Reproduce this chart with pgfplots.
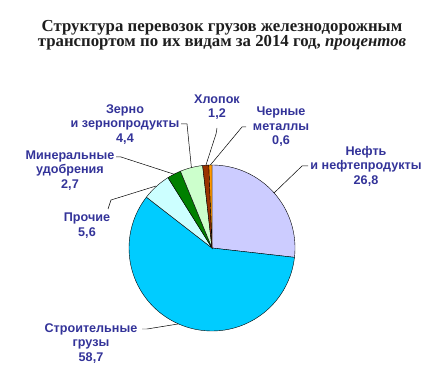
\documentclass[border=0pt]{standalone}
\usepackage{pgfplots}
\pgfplotsset{compat=1.18}
\usepackage{fontspec}
\setmainfont{Liberation Serif}
\newfontfamily\lab{Liberation Sans}
\definecolor{cneft}{HTML}{CCCCFF}
\definecolor{cstroy}{HTML}{00CCFF}
\definecolor{cproch}{HTML}{CCFFFF}
\definecolor{cmin}{HTML}{008000}
\definecolor{czerno}{HTML}{CCFFCC}
\definecolor{chlop}{HTML}{993300}
\definecolor{cmet}{HTML}{FF9900}
\definecolor{labcol}{HTML}{333399}
% slice: colour, cumulative start (%), value (%)
\newcommand{\slice}[3]{%
  \addplot[draw=black, line width=0.4pt, fill=#1, domain=0:1, samples=80, variable=\t]
    ({212+83*cos(90-3.6*(#2+#3*\t))},{137+83*sin(90-3.6*(#2+#3*\t))}) -- (axis cs:212,137) -- cycle;}
\begin{document}
\begin{tikzpicture}
\begin{axis}[width=446bp,height=385bp,scale only axis,
  xmin=0,xmax=446,ymin=0,ymax=385,hide axis,clip=false]
\slice{cneft}{0}{26.8}
\slice{cstroy}{26.8}{58.7}
\slice{cproch}{85.5}{5.6}
\slice{cmin}{91.1}{2.7}
\slice{czerno}{93.8}{4.4}
\slice{chlop}{98.2}{1.2}
\slice{cmet}{99.4}{0.6}
% leader lines
\draw[line width=0.5pt] (axis cs:308,219) -- (axis cs:302,219) -- (axis cs:274,192);
\draw[line width=0.5pt] (axis cs:246,258) -- (axis cs:242,258) -- (axis cs:210.4,220);
\draw[line width=0.5pt] (axis cs:217,257) -- (axis cs:216,251) -- (axis cs:205.8,219.5);
\draw[line width=0.5pt] (axis cs:181,261) -- (axis cs:187,261) -- (axis cs:191.4,217.4);
\draw[line width=0.5pt] (axis cs:116,228) -- (axis cs:121,228) -- (axis cs:174,210.8);
\draw[line width=0.5pt] (axis cs:108,176) -- (axis cs:111,185) -- (axis cs:156,199);
\draw[line width=0.5pt] (axis cs:142,56) -- (axis cs:147,56) -- (axis cs:178,61);
% labels
\tikzset{lbl/.style={text=labcol, align=center, inner sep=0pt,
  font={\lab\bfseries\fontsize{12.6bp}{14.5bp}\selectfont}}}
\node[lbl] at (axis cs:366,219) {Нефть\\и нефтепродукты\\26,8};
\node[lbl] at (axis cs:281,258.3) {Черные\\металлы\\0,6};
\node[lbl] at (axis cs:217,278) {Хлопок\\1,2};
\node[lbl] at (axis cs:125,260.5) {Зерно\\и зернопродукты\\4,4};
\node[lbl] at (axis cs:70,214.5) {Минеральные\\удобрения\\2,7};
\node[lbl] at (axis cs:87,159.3) {Прочие\\5,6};
\node[lbl] at (axis cs:91,41.5) {Строительные\\грузы\\58,7};
\node[align=center, inner sep=0pt, text={rgb,255:red,30;green,30;blue,30},
  font={\bfseries\fontsize{16.8bp}{15.5bp}\selectfont}] at (axis cs:222,350)
  {Структура перевозок грузов железнодорожным\\транспортом по их видам за 2014 год, \textit{процентов}};
\end{axis}
\pgfresetboundingbox
\path[use as bounding box] (current axis.south west) rectangle (current axis.north east);
\end{tikzpicture}
\end{document}
